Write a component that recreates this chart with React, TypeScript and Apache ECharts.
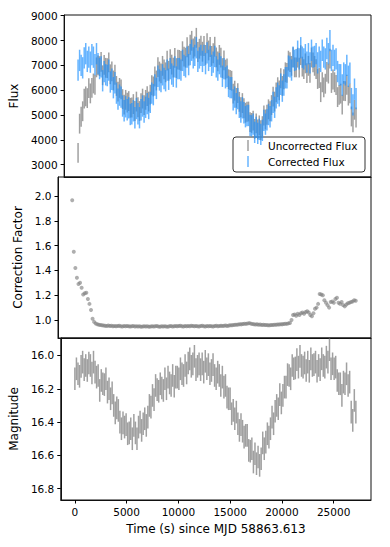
import React, { useEffect, useRef } from "react";
import * as echarts from "echarts";

const TIMES = [
  0, 150, 300, 450, 600, 750, 900, 1050, 1200, 1350, 1500, 1650, 1800, 1950, 2100, 2250, 2400, 2550, 2700, 2850,
  3000, 3150, 3300, 3450, 3600, 3750, 3900, 4050, 4200, 4350, 4500, 4650, 4800, 4950, 5100, 5250, 5400, 5550, 5700, 5850,
  6000, 6150, 6300, 6450, 6600, 6750, 6900, 7050, 7200, 7350, 7500, 7650, 7800, 7950, 8100, 8250, 8400, 8550, 8700, 8850,
  9000, 9150, 9300, 9450, 9600, 9750, 9900, 10050, 10200, 10350, 10500, 10650, 10800, 10950, 11100, 11250, 11400, 11550, 11700, 11850,
  12000, 12150, 12300, 12450, 12600, 12750, 12900, 13050, 13200, 13350, 13500, 13650, 13800, 13950, 14100, 14250, 14400, 14550, 14700, 14850,
  15000, 15150, 15300, 15450, 15600, 15750, 15900, 16050, 16200, 16350, 16500, 16650, 16800, 16950, 17100, 17250, 17400, 17550, 17700, 17850,
  18000, 18150, 18300, 18450, 18600, 18750, 18900, 19050, 19200, 19350, 19500, 19650, 19800, 19950, 20100, 20250, 20400, 20550, 20700, 20850,
  21000, 21150, 21300, 21450, 21600, 21750, 21900, 22050, 22200, 22350, 22500, 22650, 22800, 22950, 23100, 23250, 23400, 23550, 23700, 23850,
  24000, 24150, 24300, 24450, 24600, 24750, 24900, 25050, 25200, 25350, 25500, 25650, 25800, 25950, 26100, 26250, 26400, 26550, 26700, 26850,
  27000, 27150,
];

const CORRECTED_FLUX = [
  6810, 7200, 7000, 6900, 7300, 7470, 7160, 7330, 7130, 7430, 7330, 7030, 7470, 7070, 6870, 6940, 6380, 6750, 6620, 6590,
  6810, 6330, 6440, 6100, 6300, 5880, 5640, 5800, 5720, 5360, 5170, 5330, 5210, 5290, 5020, 5050, 5170, 4890, 5260, 5050,
  4890, 5210, 5360, 5120, 5310, 5460, 5260, 5510, 5880, 5820, 6210, 6070, 6560, 6410, 6350, 6620, 6470, 6380, 6810, 6440,
  6870, 6650, 6560, 6940, 6530, 6870, 6870, 6810, 7200, 7000, 6940, 7330, 7030, 7430, 7610, 7300, 7400, 7710, 7160, 7300,
  7400, 7160, 7400, 7070, 7500, 7200, 7360, 7000, 7130, 7360, 6940, 6810, 7070, 6940, 6560, 6870, 6500, 6560, 6150, 6100,
  6100, 5610, 5720, 5460, 5660, 5310, 5120, 5290, 5090, 4930, 4980, 4980, 4580, 4560, 4630, 4300, 4500, 4260, 4420, 4220,
  4380, 4780, 4630, 4800, 5020, 4930, 5170, 5510, 5310, 5690, 5880, 5770, 6240, 5960, 6210, 6500, 6500, 6970, 6940, 6810,
  7330, 7200, 7230, 7570, 7260, 7710, 7330, 7260, 7430, 7130, 7470, 7100, 7610, 7330, 7360, 7470, 7100, 7330, 7160, 7610,
  7330, 7260, 7680, 7470, 8000, 7200, 7400, 7200, 7260, 6750, 6620, 6620, 6210, 6690, 6620, 7000, 6560, 6690, 5660, 5410,
  6040, 5660,
];

const UNCORRECTED_FLUX = [
  3470, 4650, 4930, 5150, 5660, 5750, 5680, 6080, 5870, 6090, 6270, 6220, 6920, 7000, 6970, 7140, 6600, 7020, 6900, 6890,
  7120, 6640, 6760, 6390, 6620, 6170, 5940, 6090, 6030, 5640, 5420, 5610, 5500, 5560, 5290, 5300, 5440, 5160, 5540, 5310,
  5160, 5480, 5660, 5400, 5610, 5760, 5540, 5820, 6200, 6150, 6550, 6390, 6930, 6750, 6680, 6980, 6840, 6720, 7190, 6780,
  7250, 7030, 6910, 7300, 6890, 7230, 7220, 7180, 7570, 7350, 7310, 7730, 7390, 7830, 7990, 7680, 7760, 8110, 7540, 7670,
  7790, 7550, 7780, 7420, 7890, 7600, 7740, 7380, 7490, 7750, 7320, 7160, 7420, 7310, 6890, 7200, 6830, 6880, 6440, 6410,
  6380, 5860, 5980, 5690, 5880, 5530, 5310, 5480, 5270, 5090, 5130, 5140, 4710, 4680, 4770, 4440, 4660, 4420, 4580, 4390,
  4550, 4980, 4820, 5010, 5230, 5150, 5400, 5740, 5540, 5910, 6120, 5990, 6480, 6170, 6440, 6720, 6700, 7190, 7130, 6980,
  7330, 6920, 6920, 7310, 6910, 7410, 6950, 6850, 7080, 6690, 6980, 6700, 7320, 7120, 6980, 6850, 6450, 6490, 5920, 6320,
  6110, 6260, 6740, 6670, 7270, 6290, 6430, 6320, 6210, 5720, 5810, 5860, 5420, 5970, 5960, 6220, 5780, 5870, 4940, 4700,
  5210, 4900,
];

const CORRECTION_FACTOR = [
  1.965, 1.55, 1.42, 1.34, 1.29, 1.3, 1.26, 1.205, 1.215, 1.22, 1.17, 1.13, 1.08, 1.01, 0.985, 0.972, 0.966, 0.962, 0.959, 0.957,
  0.956, 0.954, 0.952, 0.955, 0.951, 0.953, 0.95, 0.952, 0.949, 0.951, 0.953, 0.95, 0.948, 0.951, 0.949, 0.952, 0.95, 0.947, 0.949, 0.951,
  0.948, 0.95, 0.947, 0.949, 0.946, 0.948, 0.95, 0.947, 0.949, 0.946, 0.948, 0.95, 0.947, 0.949, 0.951, 0.948, 0.946, 0.949, 0.947, 0.95,
  0.948, 0.946, 0.949, 0.951, 0.948, 0.95, 0.952, 0.949, 0.951, 0.953, 0.95, 0.948, 0.951, 0.949, 0.952, 0.95, 0.953, 0.951, 0.949, 0.952,
  0.95, 0.948, 0.951, 0.953, 0.95, 0.948, 0.951, 0.949, 0.952, 0.95, 0.948, 0.951, 0.953, 0.95, 0.952, 0.954, 0.951, 0.953, 0.955, 0.952,
  0.956, 0.958, 0.957, 0.96, 0.962, 0.961, 0.964, 0.966, 0.965, 0.968, 0.97, 0.969, 0.972, 0.975, 0.971, 0.968, 0.966, 0.964, 0.965, 0.962,
  0.963, 0.96, 0.961, 0.959, 0.96, 0.957, 0.958, 0.96, 0.959, 0.962, 0.961, 0.964, 0.963, 0.966, 0.965, 0.968, 0.97, 0.969, 0.973, 0.976,
  1.0, 1.04, 1.045, 1.035, 1.05, 1.04, 1.055, 1.06, 1.05, 1.065, 1.07, 1.06, 1.04, 1.03, 1.055, 1.09, 1.1, 1.13, 1.21, 1.205,
  1.2, 1.16, 1.14, 1.12, 1.1, 1.145, 1.15, 1.14, 1.17, 1.18, 1.14, 1.13, 1.145, 1.12, 1.11, 1.125, 1.135, 1.14, 1.145, 1.15,
  1.16, 1.155,
];

const MAGNITUDE = [
  16.14, 16.08, 16.11, 16.125, 16.065, 16.04, 16.085, 16.06, 16.09, 16.045, 16.06, 16.105, 16.04, 16.1, 16.13, 16.12, 16.21, 16.15, 16.17, 16.175,
  16.14, 16.22, 16.2, 16.26, 16.225, 16.3, 16.345, 16.315, 16.33, 16.4, 16.44, 16.405, 16.43, 16.415, 16.47, 16.465, 16.44, 16.5, 16.42, 16.465,
  16.5, 16.43, 16.4, 16.45, 16.41, 16.38, 16.42, 16.37, 16.3, 16.31, 16.24, 16.265, 16.18, 16.205, 16.215, 16.17, 16.195, 16.21, 16.14, 16.2,
  16.13, 16.165, 16.18, 16.12, 16.185, 16.13, 16.13, 16.14, 16.08, 16.11, 16.12, 16.06, 16.105, 16.045, 16.02, 16.065, 16.05, 16.005, 16.085, 16.065,
  16.05, 16.085, 16.05, 16.1, 16.035, 16.08, 16.055, 16.11, 16.09, 16.055, 16.12, 16.14, 16.1, 16.12, 16.18, 16.13, 16.19, 16.18, 16.25, 16.26,
  16.26, 16.35, 16.33, 16.38, 16.34, 16.41, 16.45, 16.415, 16.455, 16.49, 16.48, 16.48, 16.57, 16.575, 16.56, 16.64, 16.59, 16.65, 16.61, 16.66,
  16.62, 16.525, 16.56, 16.52, 16.47, 16.49, 16.44, 16.37, 16.41, 16.335, 16.3, 16.32, 16.235, 16.285, 16.24, 16.19, 16.19, 16.115, 16.12, 16.14,
  16.06, 16.08, 16.075, 16.025, 16.07, 16.005, 16.06, 16.07, 16.045, 16.09, 16.04, 16.095, 16.02, 16.06, 16.055, 16.04, 16.095, 16.06, 16.085, 16.02,
  16.06, 16.07, 16.01, 16.04, 15.965, 16.08, 16.05, 16.08, 16.07, 16.15, 16.17, 16.17, 16.24, 16.16, 16.17, 16.11, 16.18, 16.16, 16.34, 16.39,
  16.27, 16.34,
];

const FLUX_ERR = 430;
const UNCORR_ERR = 400;
const MAG_ERR = 0.068;

const X_TICKS = [0, 5000, 10000, 15000, 20000, 25000];
const FLUX_TICKS = [3000, 4000, 5000, 6000, 7000, 8000, 9000];
const FACTOR_TICKS = [1.0, 1.2, 1.4, 1.6, 1.8, 2.0];
const MAG_TICKS = [16.0, 16.2, 16.4, 16.6, 16.8];

const LEGEND_LABELS = ["Uncorrected Flux", "Corrected Flux"];
const X_LABEL = "Time (s) since MJD 58863.613";

const GREY = "rgba(128,128,128,0.75)";
const BLUE = "rgba(30,144,255,0.68)";
const FONT = "DejaVu Sans";

function errRender(color: string, width: number) {
  return (_params: any, api: any) => {
    const t = api.value(0);
    const v = api.value(1);
    const e = api.value(2);
    const p1 = api.coord([t, v - e]);
    const p2 = api.coord([t, v + e]);
    return {
      type: "line",
      shape: { x1: p1[0], y1: p1[1], x2: p2[0], y2: p2[1] },
      style: { stroke: color, lineWidth: width },
    };
  };
}

export default function App() {
  const ref = useRef<HTMLDivElement>(null);
  useEffect(() => {
    document.body.style.margin = "0";
    if (!ref.current) return;
    const chart = echarts.init(ref.current, undefined, { renderer: "svg" });

    const left = 58;
    const width = 313;
    const grids = [
      { left, width, top: 15, height: 162 },
      { left, width, top: 177, height: 161 },
      { left, width, top: 338, height: 162 },
    ].map((g) => ({ ...g, show: true, borderColor: "#111", borderWidth: 1, backgroundColor: "transparent" }));

    const xBase = (i: number) => ({
      type: "value",
      gridIndex: i,
      min: -1362,
      max: 28612,
      splitLine: { show: false },
      axisLine: { show: true, onZero: false, lineStyle: { color: "#111", width: 1 } },
      axisTick: { show: i === 2, length: 3.5, inside: false, lineStyle: { color: "#000" }, customValues: X_TICKS },
      axisLabel: {
        show: i === 2,
        customValues: X_TICKS,
        formatter: (v: number) => String(v),
        fontFamily: FONT,
        fontSize: 10.5,
        color: "#000",
        margin: 6,
      },
      ...(i === 2
        ? {
            name: X_LABEL,
            nameLocation: "middle",
            nameGap: 23,
            nameTextStyle: { fontFamily: FONT, fontSize: 12, color: "#000" },
          }
        : {}),
    });

    const yBase = (i: number, opts: any) => ({
      type: "value",
      gridIndex: i,
      splitLine: { show: false },
      axisLine: { show: true, onZero: false, lineStyle: { color: "#111", width: 1 } },
      axisTick: { show: true, length: 3.5, lineStyle: { color: "#000" }, customValues: opts.ticks },
      axisLabel: {
        customValues: opts.ticks,
        formatter: opts.fmt,
        fontFamily: FONT,
        fontSize: 10.5,
        color: "#000",
        margin: 6.5,
      },
      min: opts.min,
      max: opts.max,
      inverse: !!opts.inverse,
      name: opts.name,
      nameLocation: "middle",
      nameGap: opts.gap,
      nameRotate: 90,
      nameTextStyle: { fontFamily: FONT, fontSize: 12, color: "#000" },
    });

    const uncorr = TIMES.map((t, i) => [t, UNCORRECTED_FLUX[i], UNCORR_ERR]);
    const corr = TIMES.map((t, i) => [t, CORRECTED_FLUX[i], FLUX_ERR]);
    const factor = TIMES.map((t, i) => [t, CORRECTION_FACTOR[i]]);
    const mag = TIMES.map((t, i) => [t, MAGNITUDE[i], MAG_ERR]);

    chart.setOption({
      animation: false,
      grid: grids,
      xAxis: [xBase(0), xBase(1), xBase(2)],
      yAxis: [
        yBase(0, { ticks: FLUX_TICKS, fmt: (v: number) => String(v), min: 2500, max: 9030, name: "Flux", gap: 39 }),
        yBase(1, { ticks: FACTOR_TICKS, fmt: (v: number) => v.toFixed(1), min: 0.855, max: 2.153, name: "Correction Factor", gap: 30 }),
        yBase(2, { ticks: MAG_TICKS, fmt: (v: number) => v.toFixed(1), min: 15.895, max: 16.868, inverse: true, name: "Magnitude", gap: 39 }),
      ],
      series: [
        {
          type: "custom",
          name: LEGEND_LABELS[0],
          xAxisIndex: 0,
          yAxisIndex: 0,
          data: uncorr,
          encode: { x: 0, y: 1 },
          renderItem: errRender(GREY, 1.5),
          clip: true,
        },
        {
          type: "custom",
          name: LEGEND_LABELS[1],
          xAxisIndex: 0,
          yAxisIndex: 0,
          data: corr,
          encode: { x: 0, y: 1 },
          renderItem: errRender(BLUE, 1.5),
          clip: true,
        },
        {
          type: "scatter",
          xAxisIndex: 1,
          yAxisIndex: 1,
          data: factor,
          symbolSize: 4,
          itemStyle: { color: "rgba(128,128,128,0.8)" },
        },
        {
          type: "custom",
          xAxisIndex: 2,
          yAxisIndex: 2,
          data: mag,
          encode: { x: 0, y: 1 },
          renderItem: errRender(GREY, 1.5),
          clip: true,
        },
      ],
      graphic: [
        {
          type: "group",
          z: 100,
          children: [
            {
              type: "rect",
              shape: { x: 233, y: 137, width: 132, height: 35, r: 3 },
              style: { fill: "rgba(255,255,255,0.8)", stroke: "#333", lineWidth: 1 },
            },
            { type: "line", shape: { x1: 248, y1: 140, x2: 248, y2: 151 }, style: { stroke: GREY, lineWidth: 1.5 } },
            { type: "line", shape: { x1: 248, y1: 156, x2: 248, y2: 167 }, style: { stroke: BLUE, lineWidth: 1.5 } },
            {
              type: "text",
              x: 268,
              y: 146,
              style: { text: LEGEND_LABELS[0], fontFamily: FONT, fontSize: 10.5, fill: "#000", verticalAlign: "middle" },
            },
            {
              type: "text",
              x: 268,
              y: 161.5,
              style: { text: LEGEND_LABELS[1], fontFamily: FONT, fontSize: 10.5, fill: "#000", verticalAlign: "middle" },
            },
          ],
        },
      ],
    });
    return () => chart.dispose();
  }, []);
  return <div ref={ref} style={{ width: 390, height: 547 }} />;
}
